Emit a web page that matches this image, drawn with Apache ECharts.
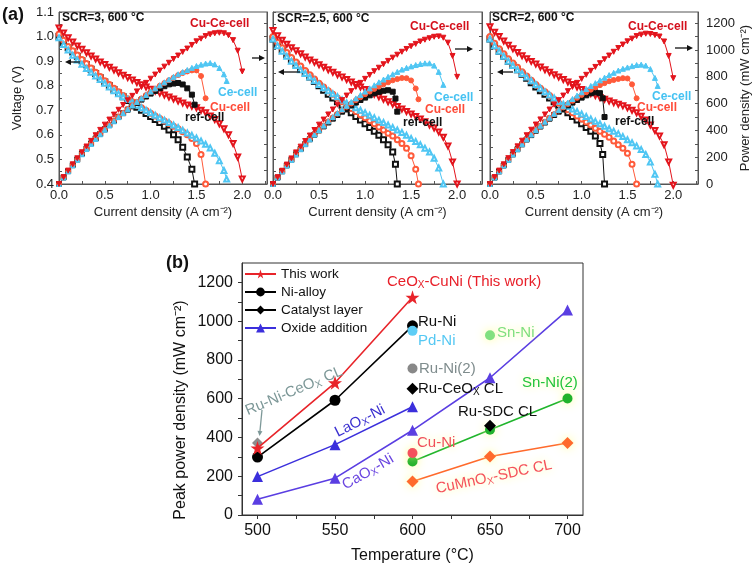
<!DOCTYPE html>
<html><head><meta charset="utf-8">
<script src="https://cdn.jsdelivr.net/npm/echarts@6/dist/echarts.min.js"></script>
<style>html,body{margin:0;padding:0;background:#fff}#c{width:756px;height:570px}</style>
</head><body><div id="c"></div>
<script>
// ---------- (a) tick labels ----------
const curLabels = [0, 0.5, 1, 1.5, 2];
const curTicks = [0, 0.25, 0.5, 0.75, 1, 1.25, 1.5, 1.75, 2, 2.25];
const voltLabels = [0.4, 0.5, 0.6, 0.7, 0.8, 0.9, 1.0, 1.1];
const voltTicks = [0.4, 0.45, 0.5, 0.55, 0.6, 0.65, 0.7, 0.75, 0.8, 0.85, 0.9, 0.95, 1.0, 1.05, 1.1];
const powLabels = [0, 200, 400, 600, 800, 1000, 1200];
const powTicks = [0, 100, 200, 300, 400, 500, 600, 700, 800, 900, 1000, 1100, 1200];
const panelTitles = ['SCR=3, 600 °C', 'SCR=2.5, 600 °C', 'SCR=2, 600 °C'];
const cellNames = ['Cu-Ce-cell', 'Ce-cell', 'Cu-cell', 'ref-cell'];

// ---------- (a) data: current (A cm-2), voltage (V), power (mW cm-2) ----------
const I200 = [0,0.05,0.1,0.15,0.2,0.25,0.3,0.35,0.4,0.45,0.5,0.55,0.6,0.65,0.7,0.75,0.8,0.85,0.9,0.95,1.0,1.05,1.1,1.15,1.2,1.25,1.3,1.35,1.4,1.45,1.5,1.55,1.6,1.65,1.7,1.75,1.8,1.85,1.9,1.95,2.0];
const I160 = [0,0.05,0.1,0.15,0.2,0.25,0.3,0.35,0.4,0.45,0.5,0.55,0.6,0.65,0.7,0.75,0.8,0.85,0.9,0.95,1.0,1.05,1.1,1.15,1.2,1.25,1.3,1.35,1.4,1.45,1.5,1.55,1.6];
const I183 = [0,0.05,0.1,0.15,0.2,0.25,0.3,0.35,0.4,0.45,0.5,0.55,0.6,0.65,0.7,0.75,0.8,0.85,0.9,0.95,1.0,1.05,1.1,1.15,1.2,1.25,1.3,1.35,1.4,1.45,1.5,1.55,1.6,1.65,1.7,1.75,1.8,1.83];
const I185 = [0,0.05,0.1,0.15,0.2,0.25,0.3,0.35,0.4,0.45,0.5,0.55,0.6,0.65,0.7,0.75,0.8,0.85,0.9,0.95,1.0,1.05,1.1,1.15,1.2,1.25,1.3,1.35,1.4,1.45,1.5,1.55,1.6,1.65,1.7,1.75,1.8,1.85];
const I158 = [0,0.05,0.1,0.15,0.2,0.25,0.3,0.35,0.4,0.45,0.5,0.55,0.6,0.65,0.7,0.75,0.8,0.85,0.9,0.95,1.0,1.05,1.1,1.15,1.2,1.25,1.3,1.35,1.4,1.45,1.5,1.55,1.58];
const I148 = [0,0.05,0.1,0.15,0.2,0.25,0.3,0.35,0.4,0.45,0.5,0.55,0.6,0.65,0.7,0.75,0.8,0.85,0.9,0.95,1.0,1.05,1.1,1.15,1.2,1.25,1.3,1.35,1.4,1.45,1.48];
const I135 = [0,0.05,0.1,0.15,0.2,0.25,0.3,0.35,0.4,0.45,0.5,0.55,0.6,0.65,0.7,0.75,0.8,0.85,0.9,0.95,1.0,1.05,1.1,1.15,1.2,1.25,1.3,1.33,1.35];
const I125 = [0,0.05,0.1,0.15,0.2,0.25,0.3,0.35,0.4,0.45,0.5,0.55,0.6,0.65,0.7,0.75,0.8,0.85,0.9,0.95,1.0,1.05,1.1,1.15,1.2,1.23,1.25];

// SCR = 3
const p1CuCeV = [1.035,1.015,0.995,0.978,0.962,0.948,0.934,0.921,0.909,0.897,0.886,0.875,0.864,0.853,0.843,0.833,0.823,0.813,0.804,0.795,0.786,0.778,0.770,0.762,0.754,0.746,0.738,0.730,0.722,0.716,0.710,0.700,0.690,0.677,0.662,0.645,0.625,0.600,0.565,0.510,0.420];
const p1CuCeP = [0,51,100,147,192,237,280,322,364,404,443,481,518,554,590,625,658,691,724,755,786,817,847,876,905,933,959,986,1011,1038,1065,1085,1104,1117,1125,1129,1125,1110,1074,995,840];
const p1CeV = [0.995,0.968,0.945,0.924,0.905,0.887,0.87,0.855,0.84,0.825,0.81,0.795,0.78,0.767,0.755,0.744,0.733,0.721,0.71,0.70,0.69,0.68,0.67,0.66,0.65,0.64,0.63,0.619,0.608,0.598,0.587,0.575,0.562,0.547,0.525,0.495,0.455,0.42];
const p1CeP = [0,48,95,139,181,222,261,299,336,371,405,437,468,499,529,558,586,613,639,665,690,714,737,759,780,800,819,836,851,867,881,891,899,903,893,866,819,769];
const p1CuV = [1.01,0.985,0.96,0.942,0.925,0.907,0.89,0.872,0.855,0.837,0.82,0.805,0.79,0.775,0.76,0.747,0.735,0.722,0.71,0.699,0.688,0.677,0.667,0.656,0.646,0.635,0.625,0.613,0.60,0.585,0.565,0.52,0.40];
const p1CuP = [0,49,96,141,185,227,267,305,342,377,410,443,474,504,532,560,588,614,639,664,688,711,734,754,775,794,813,828,840,848,848,806,640];
const p1RefV = [1.0,0.975,0.955,0.937,0.92,0.902,0.885,0.867,0.85,0.832,0.815,0.80,0.785,0.77,0.755,0.74,0.725,0.712,0.70,0.687,0.675,0.662,0.65,0.635,0.62,0.60,0.58,0.55,0.51,0.46,0.40];
const p1RefP = [0,49,96,141,184,226,266,303,340,374,408,440,471,501,529,555,580,605,630,653,675,695,715,730,744,750,754,743,714,667,592];

// SCR = 2.5
const p2CuCeV = [1.025,1.003,0.985,0.969,0.955,0.942,0.93,0.917,0.905,0.895,0.885,0.875,0.865,0.855,0.845,0.835,0.825,0.815,0.805,0.795,0.785,0.775,0.765,0.755,0.745,0.735,0.725,0.715,0.705,0.695,0.685,0.675,0.665,0.653,0.64,0.628,0.612,0.59,0.555,0.49,0.40];
const p2CuCeP = [0,50,99,145,191,236,279,321,362,403,443,481,519,556,592,626,660,693,725,755,785,814,842,868,894,919,943,965,987,1008,1028,1046,1064,1077,1088,1099,1102,1092,1055,956,800];
const p2CeV = [0.99,0.963,0.94,0.92,0.90,0.882,0.865,0.85,0.835,0.82,0.805,0.792,0.78,0.767,0.755,0.742,0.73,0.72,0.71,0.70,0.69,0.68,0.67,0.66,0.65,0.64,0.63,0.62,0.61,0.598,0.585,0.573,0.56,0.546,0.53,0.505,0.465,0.40];
const p2CeP = [0,48,94,138,180,221,260,298,334,369,403,436,468,499,529,557,584,612,639,665,690,714,737,759,780,800,819,837,854,867,878,888,896,901,901,884,837,740];
const p2CuV = [1.0,0.977,0.955,0.935,0.915,0.897,0.88,0.862,0.845,0.827,0.81,0.795,0.78,0.765,0.75,0.735,0.72,0.707,0.695,0.682,0.67,0.657,0.645,0.632,0.62,0.607,0.595,0.58,0.565,0.545,0.515,0.46,0.40];
const p2CuP = [0,49,96,140,183,224,264,302,338,372,405,437,468,497,525,551,576,601,626,648,670,690,710,727,744,759,774,783,791,790,773,713,632];
const p2RefV = [0.99,0.967,0.945,0.925,0.905,0.887,0.87,0.852,0.835,0.817,0.80,0.782,0.765,0.75,0.735,0.72,0.705,0.69,0.675,0.66,0.645,0.63,0.615,0.598,0.58,0.56,0.53,0.48,0.40];
const p2RefP = [0,48,95,139,181,222,261,298,334,368,400,430,459,488,515,540,564,587,608,627,645,662,677,688,696,700,689,638,540];

// SCR = 2
const p3CuCeV = [1.04,1.018,1.0,0.982,0.965,0.95,0.935,0.922,0.91,0.899,0.888,0.876,0.865,0.855,0.845,0.835,0.825,0.815,0.805,0.795,0.785,0.776,0.768,0.76,0.752,0.745,0.738,0.731,0.725,0.718,0.71,0.70,0.69,0.676,0.66,0.64,0.618,0.595,0.56,0.49,0.395];
const p3CuCeP = [0,51,100,147,193,238,281,323,364,405,444,482,519,556,592,626,660,693,725,755,785,815,845,874,902,931,959,987,1015,1041,1065,1085,1104,1115,1122,1120,1112,1101,1064,956,790];
const p3CeV = [0.99,0.963,0.94,0.92,0.90,0.882,0.865,0.85,0.835,0.82,0.805,0.79,0.775,0.762,0.75,0.737,0.725,0.715,0.705,0.695,0.685,0.675,0.665,0.655,0.645,0.635,0.625,0.615,0.605,0.593,0.58,0.568,0.555,0.54,0.52,0.49,0.44,0.40];
const p3CeP = [0,48,94,138,180,221,260,298,334,369,403,435,465,495,525,553,580,608,635,660,685,709,732,753,774,794,813,830,847,860,870,880,888,891,884,858,792,732];
const p3CuV = [1.0,0.973,0.95,0.93,0.91,0.892,0.875,0.857,0.84,0.822,0.805,0.79,0.775,0.76,0.745,0.73,0.715,0.702,0.69,0.677,0.665,0.652,0.64,0.627,0.615,0.602,0.59,0.575,0.56,0.545,0.525,0.48,0.40];
const p3CuP = [0,49,95,140,182,223,263,300,336,370,403,435,465,494,522,548,572,597,621,643,665,685,704,721,738,753,767,776,784,790,788,744,640];
const p3RefV = [0.99,0.963,0.94,0.92,0.90,0.882,0.865,0.847,0.83,0.812,0.795,0.78,0.765,0.75,0.735,0.72,0.705,0.69,0.675,0.66,0.645,0.63,0.615,0.595,0.565,0.52,0.40];
const p3RefP = [0,48,94,138,180,221,260,296,332,365,398,429,459,488,515,540,564,587,608,627,645,662,677,684,678,640,500];

// ---------- (b) data ----------
const tempLabels = [500, 550, 600, 650, 700];
const tempTicks = [500, 525, 550, 575, 600, 625, 650, 675, 700];
const ppdLabels = [0, 200, 400, 600, 800, 1000, 1200];
const ppdTicks = [0, 100, 200, 300, 400, 500, 600, 700, 800, 900, 1000, 1100, 1200];
const legendNames = ['This work', 'Ni-alloy', 'Catalyst layer', 'Oxide addition'];
const thisWorkT = [500, 550, 600];        const thisWorkP = [345, 682, 1123];
const niAlloyT = [500, 550, 600];         const niAlloyP = [299, 592, 976];
const laoxT = [500, 550, 600];            const laoxP = [198, 363, 558];
const caoxT = [500, 550, 600, 650, 700];  const caoxP = [81, 190, 437, 708, 1057];
const snni2T = [600, 650, 700];           const snni2P = [276, 440, 601];
const cumnoxT = [600, 650, 700];          const cumnoxP = [173, 302, 371];
const singleNames = ['Ru-Ni-CeOx CL', 'Ru-Ni(2)', 'Pd-Ni', 'Ru-CeOx CL', 'Sn-Ni', 'Ru-SDC CL', 'Cu-Ni'];
const singleT = [500, 600, 600, 600, 650, 650, 600];
const singleP = [371, 756, 950, 651, 927, 461, 320];

// ---------- styling ----------
const FONT = "'Liberation Sans', Arial, Helvetica, sans-serif";
const COL = { cuce: '#e3141c', ce: '#4fc6f3', cu: '#ff5a3a', ref: '#111111' };
const AX = '#555';
const plain = v => String(Math.round(v));

const grids = [
  { left: 59, top: 12, width: 208, height: 172 },
  { left: 273, top: 12, width: 209, height: 172 },
  { left: 490, top: 12, width: 208, height: 172 },
  { left: 242, top: 263, width: 341, height: 252 }
].map(g => Object.assign({ show: true, borderColor: AX, borderWidth: 1, backgroundColor: 'transparent' }, g));
grids[3].borderColor = '#333';

const xAxes = [], yAxes = [], series = [];
for (let g = 0; g < 3; g++) {
  xAxes.push({
    type: 'value', gridIndex: g, min: 0, max: 2.27,
    name: 'Current density (A cm⁻²)', nameLocation: 'middle', nameGap: 22,
    nameTextStyle: { fontSize: 13, color: '#222', fontFamily: FONT },
    axisLine: { show: true, lineStyle: { color: AX } },
    axisTick: { show: true, inside: true, length: 3, customValues: curTicks, lineStyle: { color: AX } },
    axisLabel: { customValues: curLabels, formatter: v => Number(v).toFixed(1), fontSize: 13, color: '#222', margin: 5, fontFamily: FONT },
    splitLine: { show: false }
  });
  yAxes.push({
    type: 'value', gridIndex: g, min: 0.4, max: 1.1, position: 'left',
    name: g === 0 ? 'Voltage (V)' : '', nameLocation: 'middle', nameGap: 35, nameRotate: 90,
    nameTextStyle: { fontSize: 13, color: '#222', fontFamily: FONT },
    axisLine: { show: true, lineStyle: { color: AX } },
    axisTick: { show: true, inside: true, length: 3, customValues: voltTicks, lineStyle: { color: AX } },
    axisLabel: { show: g === 0, customValues: voltLabels, formatter: v => Number(v).toFixed(1), fontSize: 13, color: '#222', margin: 5, fontFamily: FONT },
    splitLine: { show: false }
  });
  yAxes.push({
    type: 'value', gridIndex: g, min: 0, max: 1284, position: 'right',
    name: g === 2 ? 'Power density (mW cm⁻²)' : '', nameLocation: 'middle', nameGap: 40, nameRotate: 90,
    nameTextStyle: { fontSize: 13, color: '#222', fontFamily: FONT },
    axisLine: { show: true, lineStyle: { color: AX } },
    axisTick: { show: true, inside: true, length: 3, customValues: powTicks, lineStyle: { color: AX } },
    axisLabel: { show: g === 2, customValues: powLabels, formatter: plain, fontSize: 13, color: '#222', margin: 8, fontFamily: FONT },
    splitLine: { show: false }
  });
}
xAxes.push({
  type: 'value', gridIndex: 3, min: 490, max: 710,
  name: 'Temperature (°C)', nameLocation: 'middle', nameGap: 33,
  nameTextStyle: { fontSize: 16, color: '#111', fontFamily: FONT },
  axisLine: { show: true, lineStyle: { color: '#333' } },
  axisTick: { show: true, inside: false, length: 4, customValues: tempTicks, lineStyle: { color: '#333' } },
  axisLabel: { customValues: tempLabels, formatter: plain, fontSize: 16, color: '#111', margin: 8, fontFamily: FONT },
  splitLine: { show: false }
});
yAxes.push({
  type: 'value', gridIndex: 3, min: 0, max: 1300, position: 'left',
  axisLine: { show: true, lineStyle: { color: '#333' } },
  axisTick: { show: true, inside: false, length: 4, customValues: ppdTicks, lineStyle: { color: '#333' } },
  axisLabel: { customValues: ppdLabels, formatter: plain, fontSize: 16, color: '#111', margin: 9, fontFamily: FONT },
  splitLine: { show: false }
});

function addCurve(g, I, Y, isPower, col, sym, rot) {
  series.push({
    type: 'line', xAxisIndex: g, yAxisIndex: 2 * g + (isPower ? 1 : 0),
    data: I.map((x, k) => [x, Y[k]]),
    symbol: sym, symbolRotate: rot, symbolSize: 5, showSymbol: true, clip: false, silent: true,
    lineStyle: { width: 1, color: col },
    itemStyle: { color: col, borderColor: col, borderWidth: 1 }
  });
}
const panels = [
  { ref: [I148, p1RefV, p1RefP], cu: [I160, p1CuV, p1CuP], ce: [I183, p1CeV, p1CeP], cuce: [I200, p1CuCeV, p1CuCeP] },
  { ref: [I135, p2RefV, p2RefP], cu: [I158, p2CuV, p2CuP], ce: [I185, p2CeV, p2CeP], cuce: [I200, p2CuCeV, p2CuCeP] },
  { ref: [I125, p3RefV, p3RefP], cu: [I160, p3CuV, p3CuP], ce: [I183, p3CeV, p3CeP], cuce: [I200, p3CuCeV, p3CuCeP] }
];
panels.forEach((p, g) => {
  addCurve(g, p.ref[0], p.ref[1], false, COL.ref, 'emptyRect', 0);
  addCurve(g, p.cu[0], p.cu[1], false, COL.cu, 'emptyCircle', 0);
  addCurve(g, p.ce[0], p.ce[1], false, COL.ce, 'emptyTriangle', 0);
  addCurve(g, p.cuce[0], p.cuce[1], false, COL.cuce, 'emptyTriangle', 180);
  addCurve(g, p.ref[0], p.ref[2], true, COL.ref, 'rect', 0);
  addCurve(g, p.cu[0], p.cu[2], true, COL.cu, 'circle', 0);
  addCurve(g, p.ce[0], p.ce[2], true, COL.ce, 'triangle', 0);
  addCurve(g, p.cuce[0], p.cuce[2], true, COL.cuce, 'triangle', 180);
});

// (b) series
const STAR = 'path://M50,0 L61.8,35.1 L98.1,35.1 L68.7,56.8 L79.4,91.9 L50,70.5 L20.6,91.9 L31.3,56.8 L1.9,35.1 L38.2,35.1 Z';
const glow = { shadowColor: 'rgba(255,255,140,0.9)', shadowBlur: 10 };
function lineB(name, T, P, col, sym, size, extra) {
  series.push(Object.assign({
    name, type: 'line', xAxisIndex: 3, yAxisIndex: 6,
    data: T.map((t, k) => [t, P[k]]),
    symbol: sym, symbolSize: size, showSymbol: true, clip: false, silent: true,
    lineStyle: { width: 1.6, color: col },
    itemStyle: { color: col }
  }, extra || {}));
}
lineB('CaOx-Ni', caoxT, caoxP, '#5a3ee2', 'triangle', 11);
lineB('Oxide addition', laoxT, laoxP, '#3b2fdc', 'triangle', 11);
lineB('Sn-Ni(2)', snni2T, snni2P, '#1fb52c', 'circle', 10, { itemStyle: Object.assign({ color: '#20b22c' }, glow) });
lineB('CuMnOx-SDC CL', cumnoxT, cumnoxP, '#ff6a2c', 'diamond', 12, { itemStyle: Object.assign({ color: '#ff6a2c' }, glow) });
lineB('Catalyst layer', [], [], '#000', 'diamond', 11);
lineB('Ni-alloy', niAlloyT, niAlloyP, '#000', 'circle', 11);
const singleStyle = [
  ['diamond', 11, '#8c8c8c'], ['circle', 10, '#888888'], ['circle', 10, '#5dcdf6'],
  ['diamond', 12, '#000000'], ['circle', 10, '#80e080'], ['diamond', 12, '#000000'], ['circle', 10, '#f4505c']
];
singleNames.forEach((n, k) => {
  series.push({
    name: n, type: 'scatter', xAxisIndex: 3, yAxisIndex: 6, silent: true, clip: false, z: 4,
    data: [[singleT[k], singleP[k]]],
    symbol: singleStyle[k][0], symbolSize: singleStyle[k][1],
    itemStyle: Object.assign({ color: singleStyle[k][2], opacity: 1 }, (n === 'Sn-Ni' || n === 'Cu-Ni') ? glow : {})
  });
});
lineB('This work', thisWorkT, thisWorkP, '#e8242a', STAR, 14, { z: 5 });

// ---------- annotations ----------
const graphics = [];
function txt(x, y, text, color, size, opt) {
  opt = opt || {};
  const rich = { s: { fontSize: Math.round(size * 0.68), fontFamily: FONT, fill: color, padding: [Math.round(size * 0.45), 0, 0, 0] } };
  graphics.push({
    type: 'text', x, y, rotation: (opt.rot || 0) * Math.PI / 180, silent: true, z: 100,
    style: Object.assign({
      text, x: 0, y: 0, fill: color, fontSize: size, fontFamily: FONT, fontWeight: opt.bold ? 'bold' : 'normal',
      textAlign: opt.align || 'left', textVerticalAlign: 'middle', rich
    }, opt.glow ? { textShadowColor: 'rgba(255,255,150,0.9)', textShadowBlur: 8 } : {})
  });
}
function arrow(x1, y1, x2, y2, color, head, w) {
  const a = Math.atan2(y2 - y1, x2 - x1);
  const L = head || 6, W = w || 3;
  const bx = x2 - L * Math.cos(a), by = y2 - L * Math.sin(a);
  const px = -Math.sin(a) * W, py = Math.cos(a) * W;
  graphics.push({ type: 'line', silent: true, z: 100, shape: { x1, y1, x2: bx, y2: by }, style: { stroke: color, lineWidth: 1.3 } });
  graphics.push({ type: 'polygon', silent: true, z: 100, shape: { points: [[x2, y2], [bx + px, by + py], [bx - px, by - py]] }, style: { fill: color } });
}

txt(2, 15, '(a)', '#111', 18, { bold: true });
txt(166, 263, '(b)', '#111', 18, { bold: true });

const titlePos = [[62, 18], [277, 19], [492, 18]];
const labelPos = [
  [[190, 24], [218, 93], [210, 108], [185, 118]],
  [[410, 27], [434, 98], [425, 110], [403, 123]],
  [[628, 27], [652, 97], [637, 108], [615, 122]]
];
const labelCol = ['#d4101c', '#45c2f2', '#ff4b38', '#111'];
for (let g = 0; g < 3; g++) {
  txt(titlePos[g][0], titlePos[g][1], panelTitles[g], '#111', 12, { bold: true });
  cellNames.forEach((n, k) => txt(labelPos[g][k][0], labelPos[g][k][1], n, labelCol[k], 12, { bold: true }));
}
arrow(80, 62, 65, 62, '#111', 6, 3); arrow(252, 58, 265, 58, '#111', 6, 3);
arrow(300, 72, 278, 72, '#111', 6, 3); arrow(455, 49, 473, 49, '#111', 6, 3);
arrow(513, 72, 497, 72, '#111', 6, 3); arrow(675, 48, 693, 48, '#111', 6, 3);

// (b) labels
graphics.push({
  type: 'text', x: 181, y: 410, rotation: Math.PI / 2, silent: true,
  style: { text: 'Peak power density (mW cm⁻²)', x: 0, y: 0, fill: '#111', fontSize: 16, fontFamily: FONT, textAlign: 'center', textVerticalAlign: 'middle' }
});
txt(387, 282, 'CeO{s|X}-CuNi (This work)', '#e8202a', 15);
txt(418, 322, 'Ru-Ni', '#111', 15);
txt(418, 341, 'Pd-Ni', '#55c8f3', 15);
txt(419, 369, 'Ru-Ni(2)', '#7f8c8d', 15);
txt(418, 389, 'Ru-CeO{s|X} CL', '#111', 15);
txt(497, 333, 'Sn-Ni', '#7edf7e', 15, { glow: true });
txt(522, 383, 'Sn-Ni(2)', '#22c43a', 15, { glow: true });
txt(458, 412, 'Ru-SDC CL', '#111', 15);
txt(417, 443, 'Cu-Ni', '#f0505a', 15, { glow: true });
txt(494, 477, 'CuMnO{s|X}-SDC CL', '#f5525a', 15, { rot: 12, align: 'center', glow: true });
txt(368, 472, 'CaO{s|X}-Ni', '#6a45e0', 15, { rot: 30, align: 'center' });
txt(360, 421, 'LaO{s|X}-Ni', '#3a2fd0', 15, { rot: 27, align: 'center' });
txt(294, 391, 'Ru-Ni-CeO{s|X} CL', '#7d9898', 15, { rot: 23, align: 'center' });
arrow(262, 410, 259.5, 436, '#7d9898', 5, 2.5);

const chart = echarts.init(document.getElementById('c'), null, { renderer: 'canvas' });
chart.setOption({
  animation: false,
  backgroundColor: '#fff',
  textStyle: { fontFamily: FONT },
  grid: grids,
  xAxis: xAxes,
  yAxis: yAxes,
  legend: {
    data: legendNames, orient: 'vertical', left: 244, top: 267,
    itemWidth: 31, itemHeight: 11, itemGap: 4, padding: 0, selectedMode: false,
    textStyle: { fontSize: 13.5, color: '#111', fontFamily: FONT }
  },
  series,
  graphic: graphics
});
</script>
</body></html>
